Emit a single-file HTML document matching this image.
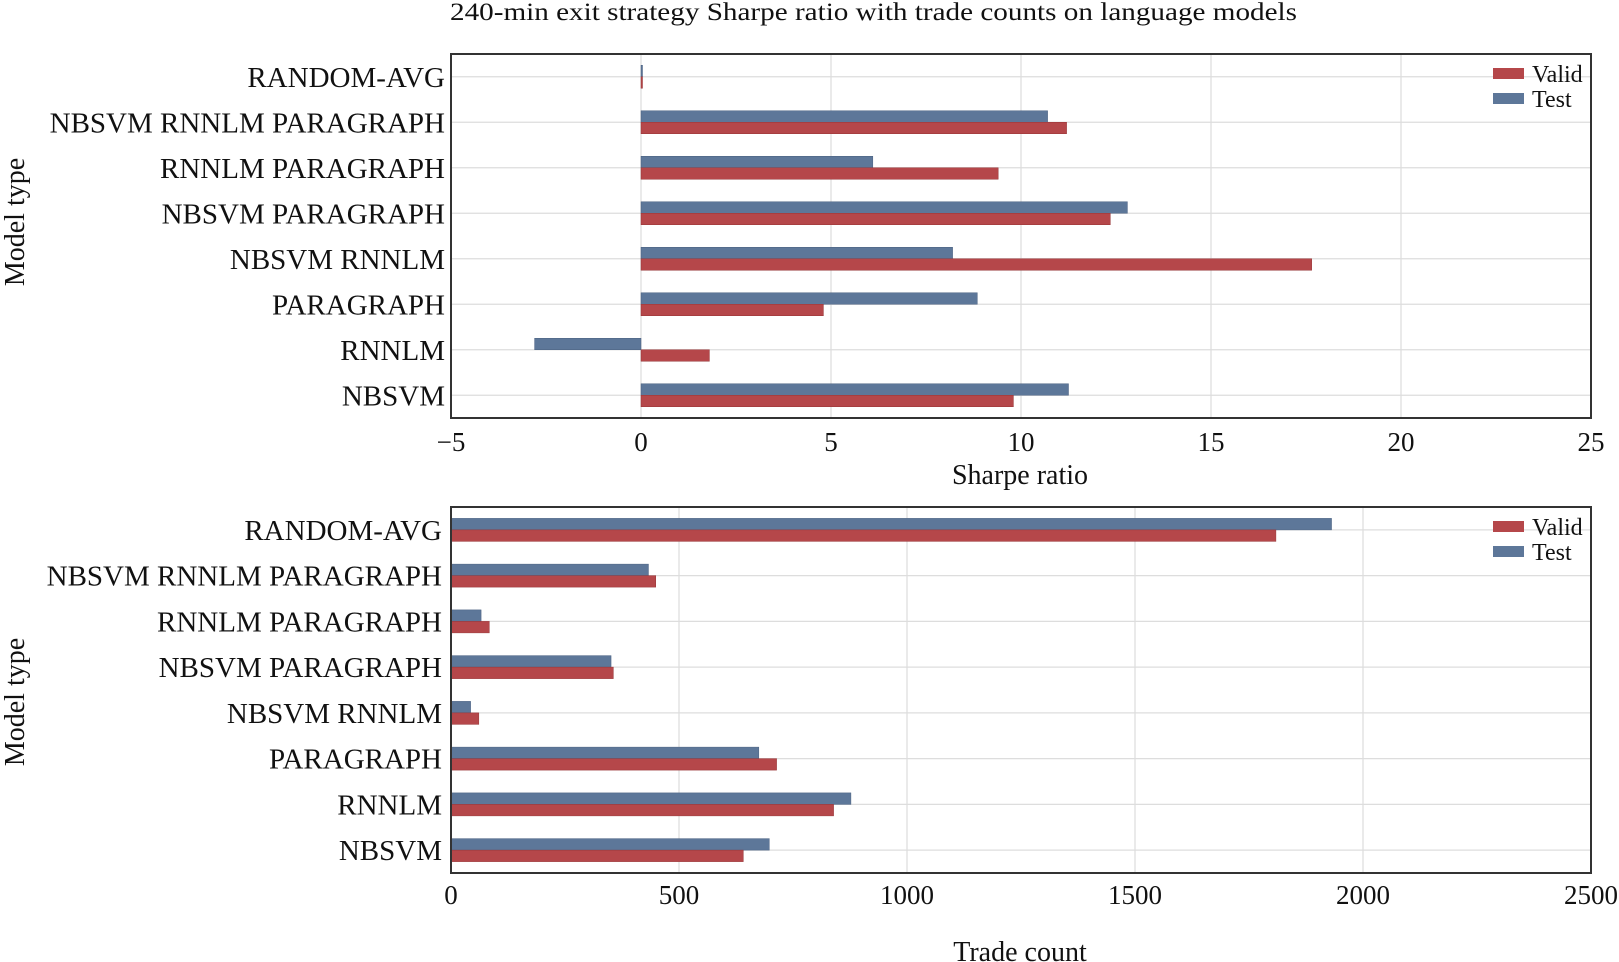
<!DOCTYPE html>
<html><head><meta charset="utf-8"><style>
html,body{margin:0;padding:0;background:#fff;}
svg{display:block;font-family:"Liberation Serif",serif;}
</style></head><body>
<svg id="c" width="1619" height="962"></svg>
<script>
const categories=["RANDOM-AVG","NBSVM RNNLM PARAGRAPH","RNNLM PARAGRAPH","NBSVM PARAGRAPH","NBSVM RNNLM","PARAGRAPH","RNNLM","NBSVM"];
const sharpeValid=[0,11.2,9.4,12.35,17.65,4.8,1.8,9.8];
const sharpeTest=[0,10.7,6.1,12.8,8.2,8.85,-2.8,11.25];
const tradeValid=[1809,449,84,356,61,714,839,641];
const tradeTest=[1931,433,66,351,43,675,877,698];
const sharpeTicks=[-5,0,5,10,15,20,25];
const tradeTicks=[0,500,1000,1500,2000,2500];
const NS="http://www.w3.org/2000/svg";
const svg=document.getElementById('c');
function mk(t,a,p){const e=document.createElementNS(NS,t);for(const k in a)e.setAttribute(k,a[k]);(p||svg).appendChild(e);return e;}
const RED="#b5474a",BLUE="#5d7799";
const title=mk('text',{x:450,y:20,'font-size':25,fill:'#111',textLength:847,lengthAdjust:'spacingAndGlyphs'});
title.textContent="240-min exit strategy Sharpe ratio with trade counts on language models";


function panel(name,top,bot,xmin,xmax,ticks,valid,test,xtitle,tickY,xtitleY,ytitleY,labelDx){
  const L=451,R=1591;
  const g=mk('g',{});
  
  
  const x=v=>L+(v-xmin)/(xmax-xmin)*(R-L);
  const slot=(bot-top)/categories.length;
  const y=i=>top+(i+0.5)*slot;
  mk('rect',{x:L,y:top,width:R-L,height:bot-top,fill:'#fff'},g);
  ticks.forEach(t=>{
    const gl=mk('line',{x1:x(t),x2:x(t),y1:top,y2:bot,stroke:'#ddd','stroke-width':1.2},g);
    
    
    const tl=mk('text',{x:x(t),y:tickY,'text-anchor':'middle','font-size':27,fill:'#111'},g);
    tl.textContent=t<0?'\u2212'+Math.abs(t):String(t);
    
    
  });
  categories.forEach((c,i)=>{
    mk('line',{x1:L,x2:R,y1:y(i),y2:y(i),stroke:'#ddd','stroke-width':1.2},g);
    const lb=mk('text',{x:L-6-labelDx,y:y(i)+10,'text-anchor':'end','font-size':29,fill:'#111'},g);
    lb.textContent=c;
    
    
  });
  const bh=11.5;
  categories.forEach((c,i)=>{
    const tv=test[i],vv=valid[i];
    const bt=mk('rect',{x:Math.min(x(0),x(tv)),y:y(i)-bh,width:Math.max(1.5,Math.abs(x(tv)-x(0))),height:bh,fill:BLUE,stroke:'#4a6080','stroke-width':0.5},g);
    
    
    const bv=mk('rect',{x:Math.min(x(0),x(vv)),y:y(i),width:Math.max(1.5,Math.abs(x(vv)-x(0))),height:bh,fill:RED,stroke:'#963537','stroke-width':0.5},g);
    
    
  });
  mk('rect',{x:L,y:top,width:R-L,height:bot-top,fill:'none',stroke:'#333','stroke-width':2},g);
  const xt=mk('text',{x:(L+R)/2-1,y:xtitleY,'text-anchor':'middle','font-size':28,fill:'#111'},g);
  xt.textContent=xtitle;
  
  
  const yt=mk('text',{x:0,y:0,'text-anchor':'middle','font-size':28,fill:'#111',transform:`translate(24,${ytitleY}) rotate(-90)`},g);
  yt.textContent="Model type";
  
  
  [["Valid",RED,0],["Test",BLUE,25]].forEach(([n,col,dy])=>{
    const r=mk('rect',{x:1493,y:top+14+dy,width:31,height:11,fill:col},g);
    
    
    const t=mk('text',{x:1532,y:top+28+dy,'font-size':24,fill:'#111'},g);
    t.textContent=n;
    
    
  });
}
panel('sharpe-panel',54,418,-5,25,sharpeTicks,sharpeValid,sharpeTest,"Sharpe ratio",451,484,222,0);
panel('trade-panel',507,873,0,2500,tradeTicks,tradeValid,tradeTest,"Trade count",904,961,702,3);
</script>
</body></html>
